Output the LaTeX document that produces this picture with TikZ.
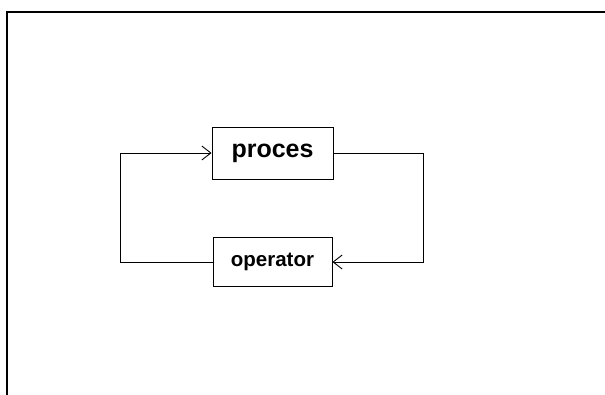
\documentclass[tikz,border=0pt]{standalone}
\usepackage{fontspec}
\setmainfont{Liberation Sans}
\usetikzlibrary{arrows.meta}
\begin{document}
\begin{tikzpicture}[x=1pt,y=-1pt,
    blok/.style={draw,line width=0.9pt,inner sep=0pt,font=\bfseries},
    link/.style={line width=0.8pt,-{Straight Barb[length=9pt,width=14pt,line width=0.9pt]}}]
  \useasboundingbox (0,0) rectangle (605,395);
  % frame
  \draw[line width=2.2pt] (7,395) |- (605,12);
  \node[blok,minimum width=121pt,minimum height=52pt,font=\bfseries\fontsize{25}{30}\selectfont]
    (proces) at (272.5,153) {proces};
  \node[blok,minimum width=119pt,minimum height=49pt,font=\bfseries\fontsize{20.5}{25}\selectfont]
    (operator) at (272.5,262) {operator};
  \draw[link] (proces.east) -- ++(89.5,0) |- (operator.east);
  \draw[link] (operator.west) -- ++(-92,0) |- (proces.west);
\end{tikzpicture}
\end{document}
